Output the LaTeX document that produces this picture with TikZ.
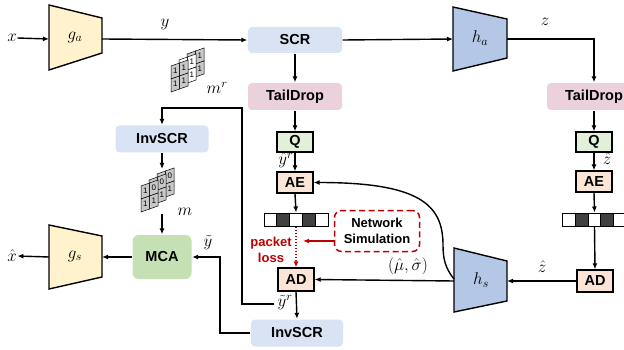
\documentclass[tikz,border=0pt]{standalone}
\usepackage{fix-cm}
\usepackage{fontspec}
\newfontfamily\arialf{Liberation Sans}
\usetikzlibrary{arrows.meta,calc}
\definecolor{trapY}{HTML}{FFF2CC}
\definecolor{trapB}{HTML}{B4C7E7}
\definecolor{scrB}{HTML}{DAE3F3}
\definecolor{tdP}{HTML}{EAD1DC}
\definecolor{qG}{HTML}{E2F0D9}
\definecolor{aeO}{HTML}{FBE5D6}
\definecolor{mcaG}{HTML}{C5E0B4}
\definecolor{lossR}{HTML}{C00000}
\definecolor{cellG}{HTML}{C8C8C8}
\definecolor{bitD}{HTML}{404040}
% #1,#2 top-left of layer, #3 fill, #4..#7 digits (top-left, top-right, bottom-left, bottom-right)
\newcommand\masklayer[7]{%
  \foreach \cc/\rr/\dd in {0/0/#4,1/0/#5,0/1/#6,1/1/#7}{%
    \draw[line width=0.5pt,fill=#3] ({#1+\cc*8.5},{#2-\cc*3+\rr*13}) -- ++(8.5,-3) -- ++(0,13) -- ++(-8.5,3) -- cycle;
    \node[font=\arialf\fontsize{8}{8}\selectfont,inner sep=0] at ({#1+\cc*8.5+4.25},{#2-\cc*3-1.5+\rr*13+6.5}) {\dd};
  }}
\begin{document}
\begin{tikzpicture}[x=1pt,y=-1pt,line width=1.4pt,
  >={Latex[length=6pt,width=5pt]},
  soft/.style={rounded corners=4pt,inner sep=0,font=\arialf\bfseries\fontsize{14.5}{15}\selectfont},
  hard/.style={draw=black,line width=1.3pt,inner sep=0,font=\arialf\bfseries\fontsize{14.5}{15}\selectfont},
  mlab/.style={inner sep=0,font=\fontsize{17}{17}\selectfont},
  trap/.style={draw=black,line width=1.4pt},
  bit/.style={draw=black,line width=1pt,minimum width=12.8pt,minimum height=13pt,inner sep=0}]
\useasboundingbox (0,0) rectangle (624,350);

% trapezoids
\draw[trap,fill=trapY] (49,5) -- (102,18) -- (102,53) -- (49,70) -- cycle;
\node[mlab] (galab) at (75,37) {$g_a$};
\coordinate (ga-w) at (49,39); \coordinate (ga-e) at (102,39);
\draw[trap,fill=trapY] (49,225) -- (102,236) -- (102,277) -- (49,289) -- cycle;
\node[mlab] (gslab) at (75,256) {$g_s$};
\coordinate (gs-w) at (49,257); \coordinate (gs-e) at (102,257);
\draw[trap,fill=trapB] (453,7) -- (507,19) -- (507,58) -- (453,71) -- cycle;
\node[mlab] (halab) at (480,38) {$h_a$};
\coordinate (ha-w) at (453,39); \coordinate (ha-e) at (507,39);
\draw[trap,fill=trapB] (454,248) -- (507,261) -- (507,301) -- (454,312) -- cycle;
\node[mlab] (hslab) at (481,280) {$h_s$};
\coordinate (hs-w) at (454,281); \coordinate (hs-e) at (507,281);
\coordinate (hs-c) at (454,279);

% labels
\node[mlab] (xin) at (12,38) {$x$};
\node[mlab] (xout) at (12,256) {$\hat{x}$};
\node[mlab] (ylab) at (165,24) {$y$};
\node[mlab] (zlab) at (545,22) {$z$};
\node[mlab,anchor=east] (yhr) at (294,160) {$\hat{y}^r$};
\node[mlab] (zh1) at (607,159) {$\hat{z}$};
\node[mlab] (zh2) at (542,267) {$\hat{z}$};
\node[mlab] (musig) at (408,266) {$(\hat{\mu},\hat{\sigma})$};
\node[mlab] (ytr) at (285,303) {$\tilde{y}^r$};
\node[mlab] (yt) at (208,243) {$\tilde{y}$};
\node[mlab,anchor=west] (mrl) at (206,88) {$m^r$};
\node[mlab] (ml) at (185,212) {$m$};

% boxes
\node[soft,fill=scrB,minimum width=94pt,minimum height=26pt] (scr) at (295,40) {SCR};
\node[soft,fill=tdP,minimum width=94pt,minimum height=27pt] (tdL) at (295,96.5) {TailDrop};
\node[soft,fill=tdP,minimum width=94pt,minimum height=27pt] (tdR) at (594,96.5) {TailDrop};
\node[hard,fill=qG,minimum width=36pt,minimum height=20pt] (qL) at (295,142) {Q};
\node[hard,fill=qG,minimum width=36pt,minimum height=20pt] (qR) at (594,142) {Q};
\node[hard,fill=aeO,minimum width=36pt,minimum height=21pt] (aeL) at (295,182.5) {AE};
\node[hard,fill=aeO,minimum width=36pt,minimum height=21pt] (aeR) at (594,181.5) {AE};
\node[hard,fill=aeO,minimum width=36pt,minimum height=23pt] (adL) at (296,279.5) {AD};
\node[hard,fill=aeO,minimum width=36pt,minimum height=22pt] (adR) at (595,281) {AD};
\node[soft,fill=scrB,minimum width=93pt,minimum height=27pt] (invL) at (162,139) {InvSCR};
\node[soft,fill=scrB,minimum width=92pt,minimum height=27pt] (invB) at (297,333) {InvSCR};
\node[soft,fill=mcaG,rounded corners=6pt,minimum width=59pt,minimum height=44pt] (mca) at (162,257) {MCA};
\node[draw=lossR,dash pattern=on 6pt off 3.5pt,line width=1.5pt,rounded corners=7pt,minimum width=85pt,minimum height=41pt,align=center,inner sep=0,
  font=\arialf\bfseries\fontsize{13}{15.5}\selectfont] (net) at (377,231) {Network\\Simulation};
\node[align=center,inner sep=0,text=lossR,font=\arialf\bfseries\fontsize{13}{15.5}\selectfont] (ploss) at (271,250) {packet\\loss};

% bitstreams
\foreach \i/\f in {0/white,1/bitD,2/white,3/bitD,4/white}{
  \node[bit,fill=\f] (bl\i) at ({264+6.4+\i*12.8},219.5) {};
  \node[bit,fill=\f] (br\i) at ({563+6.3+\i*12.6},219.5) {};
}

% masks
\masklayer{187}{54}{cellG}{}{1}{}{1}
\masklayer{179}{60}{white}{}{1}{}{1}
\masklayer{171}{66}{cellG}{1}{1}{1}{1}
\masklayer{157}{174}{cellG}{}{0}{}{1}
\masklayer{149}{180}{cellG}{}{0}{}{1}
\masklayer{141}{186}{cellG}{1}{0}{1}{1}
\coordinate (mstk) at (162,169);
\coordinate (mbot) at (162,214);

% connectors
\draw[->] (xin.east) -- (ga-w);
\draw[->] (ga-e) -- (scr.west);
\draw[->] (scr.east) -- (ha-w);
\draw[->] (ha-e) -| (tdR.north);
\draw[->] (scr.south) -- (tdL.north);
\draw[->] (tdL.south) -- (qL.north);
\draw[->] (qL.south) -- (aeL.north);
\draw[->] (aeL.south) -- (bl2.north);
\draw[->] (tdR.south) -- (qR.north);
\draw[->] (qR.south) -- (aeR.north);
\draw[->] (aeR.south) -- (br2.north);
\draw[->] (br2.south) -- (adR.north);
\draw[->] (adR.west) -- (hs-e);
\draw[->] (hs-w) -- (adL.east);
\draw[->] (hs-c) .. controls (445,268) and (443,258) .. (443,245) .. controls (443,205) and (420,182.5) .. (aeL.east);
\draw[->,lossR,line width=1.4pt,dash pattern=on 1.5pt off 1.5pt] (bl2.south) -- (bl2.south |- adL.north);
\coordinate (redend) at (303,241);
\draw[->,lossR,line width=1.4pt] (net.west |- redend) -- (redend);
\draw[->] (adL.south) -- (invB.north);
\coordinate (yrstart) at (274,304);
\draw[->] (yrstart) -- (242,304) -- (242,108) -| (invL.north);
\draw[->] (invL.south) -- (mstk);
\draw[->] (mbot) -- (mca.north);
\draw[->] (invB.west) -| (220,257) -- (mca.east);
\draw[->] (mca.west) -- (gs-e);
\draw[->] (gs-w) -- (xout.east);
\end{tikzpicture}
\end{document}
